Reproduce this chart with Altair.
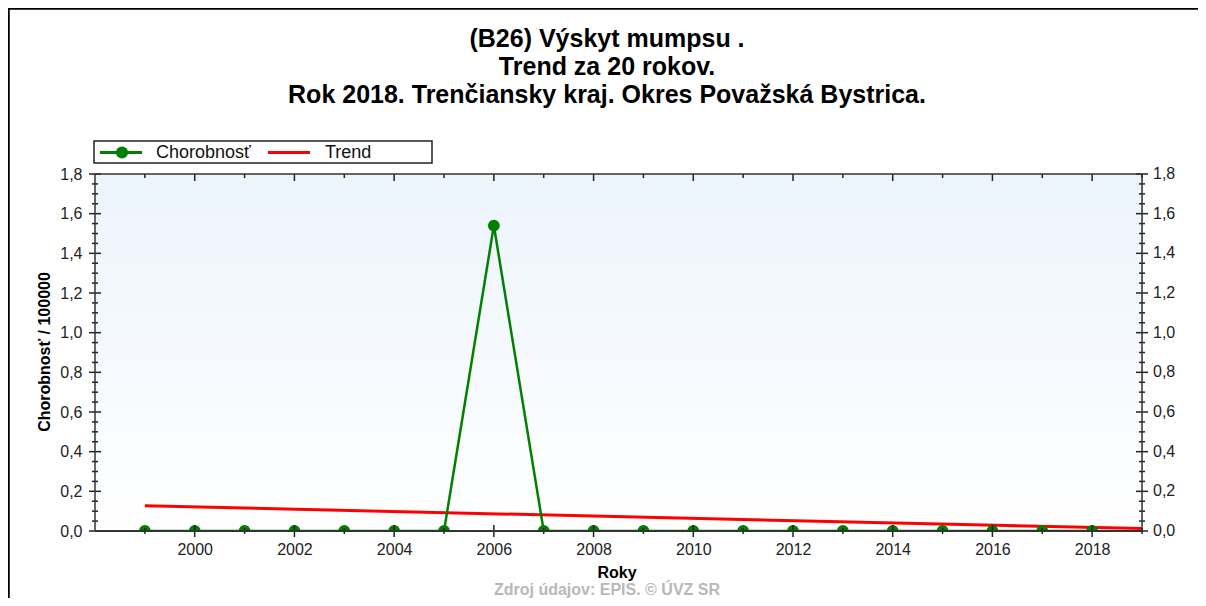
import altair as alt
import pandas as pd

# ---- data ----
years = [1999, 2000, 2001, 2002, 2003, 2004, 2005, 2006, 2007, 2008,
         2009, 2010, 2011, 2012, 2013, 2014, 2015, 2016, 2017, 2018]
incidence = [0, 0, 0, 0, 0, 0, 0, 1.54, 0, 0,
             0, 0, 0, 0, 0, 0, 0, 0, 0, 0]
trend_years = [1999, 2019]
trend_values = [0.127, 0.012]

series_names = ["Chorobnosť", "Trend"]
series_colors = ["#008000", "#ff0000"]

y_major = [0.0, 0.2, 0.4, 0.6, 0.8, 1.0, 1.2, 1.4, 1.6, 1.8]
y_major_labels = ["0,0", "0,2", "0,4", "0,6", "0,8", "1,0", "1,2", "1,4", "1,6", "1,8"]
y_minor = [0.05, 0.1, 0.15, 0.25, 0.3, 0.35, 0.45, 0.5, 0.55, 0.65, 0.7, 0.75,
           0.85, 0.9, 0.95, 1.05, 1.1, 1.15, 1.25, 1.3, 1.35, 1.45, 1.5, 1.55,
           1.65, 1.7, 1.75]
x_major = [2000, 2002, 2004, 2006, 2008, 2010, 2012, 2014, 2016, 2018]
x_minor = [1999, 2001, 2003, 2005, 2007, 2009, 2011, 2013, 2015, 2017, 2019]

title_lines = ["(B26) Výskyt mumpsu .",
               "Trend za 20 rokov.",
               "Rok 2018. Trenčiansky kraj. Okres Považská Bystrica."]
y_title = "Chorobnosť / 100000"
x_title = "Roky"
source_text = "Zdroj údajov: EPIS. © ÚVZ SR"

# ---- layout ----
W, H = 1047, 357
FONT = "Liberation Sans"
X_DOMAIN = [1998, 2019]
Y_DOMAIN = [0, 1.8]

xs = alt.Scale(domain=X_DOMAIN, nice=False, zero=False)
ys = alt.Scale(domain=Y_DOMAIN, nice=False)

X_AXIS = alt.Axis(values=x_major, format="d", ticks=False, domain=False, grid=False,
                  labelFontSize=16, labelFont=FONT, labelColor="#222", labelPadding=10, title=None)
Y_AXIS = alt.Axis(values=y_major, labelExpr="replace(format(datum.value, '.1f'), '.', ',')",
                  ticks=False, domain=False, grid=False, labelFontSize=16, labelFont=FONT,
                  labelColor="#222", labelPadding=13, title=None)

def XE(field):
    return alt.X(field, scale=xs, axis=X_AXIS, title=None)

def YE(field):
    return alt.Y(field, scale=ys, axis=Y_AXIS, title=None)

df = pd.DataFrame({"year": years, "value": incidence})
df_trend = pd.DataFrame({"year": trend_years, "value": trend_values})
one = pd.DataFrame({"k": [0]})

bg = alt.Chart(one).mark_rect(
    color=alt.LinearGradient(
        gradient="linear",
        stops=[alt.GradientStop(color="#ecf4fc", offset=0),
               alt.GradientStop(color="#ffffff", offset=1)],
        x1=0, x2=0, y1=0, y2=1)
).encode(x=alt.value(0), x2=alt.value(W), y=alt.value(0), y2=alt.value(H))

trend = alt.Chart(df_trend).mark_line(color=series_colors[1], strokeWidth=3, clip=True).encode(
    x=XE("year:Q"), y=YE("value:Q"))

line = alt.Chart(df).mark_line(color=series_colors[0], strokeWidth=2.5, clip=True).encode(
    x=XE("year:Q"), y=YE("value:Q"))
pts = alt.Chart(df).mark_point(filled=True, shape="circle", size=140, color=series_colors[0],
                                opacity=1, clip=True).encode(
    x=XE("year:Q"), y=YE("value:Q"))

# ---- ticks ----
dy_major = pd.DataFrame({"v": y_major, "lab": y_major_labels})
dy_minor = pd.DataFrame({"v": y_minor})
dx_major = pd.DataFrame({"v": x_major})
dx_minor = pd.DataFrame({"v": x_minor})
TC = "#222"

def yticks(d, x0, x1):
    return alt.Chart(d).mark_rule(color=TC, strokeWidth=1.5).encode(
        y=YE("v:Q"), x=alt.value(x0), x2=alt.value(x1))

def xticks(d, y0, y1):
    return alt.Chart(d).mark_rule(color=TC, strokeWidth=1.5).encode(
        x=XE("v:Q"), y=alt.value(y0), y2=alt.value(y1))

ticks = [
    yticks(dy_major, -6, 6), yticks(dy_minor, -3, 3),
    yticks(dy_major, W - 6, W + 6), yticks(dy_minor, W - 3, W + 3),
    xticks(dx_major, H - 6, H + 6), xticks(dx_minor, H - 3, H + 3),
    xticks(dx_major, 0, 7), xticks(dx_minor, 0, 4),
]

right_labels = alt.Chart(dy_major).mark_text(align="left", baseline="middle", fontSize=16,
                                              font=FONT, color="#222").encode(
    y=YE("v:Q"), x=alt.value(W + 11), text="lab:N")

# ---- frame ----
FC = "#333"
def rule(x, x2, y, y2, w=1.5, c=FC):
    return alt.Chart(one).mark_rule(color=c, strokeWidth=w).encode(
        x=alt.value(x), x2=alt.value(x2), y=alt.value(y), y2=alt.value(y2))

frame = [
    rule(0, 0, 0, H), rule(W, W, 0, H), rule(0, W, 0, 0), rule(0, W, H, H, w=2),
    rule(-86.5, -86.5, -166, H + 67, w=2.5, c="#000"),
    rule(-87, W + 56, -165.5, -165.5, w=2.5, c="#000"),
]

# ---- texts ----
def txt(s, x, y, size, bold=False, color="#000", align="center", baseline="alphabetic", angle=0):
    kw = dict(align=align, baseline=baseline, fontSize=size, font=FONT, color=color,
              fontWeight="bold" if bold else "normal")
    if angle:
        kw["angle"] = angle
    return alt.Chart(one).mark_text(text=s, **kw).encode(x=alt.value(x), y=alt.value(y))

texts = [
    txt(title_lines[0], 512, -127, 25, bold=True),
    txt(title_lines[1], 512, -99, 25, bold=True),
    txt(title_lines[2], 512, -71, 25, bold=True),
    txt(y_title, -50, 178, 16, bold=True, baseline="middle", angle=270),
    txt(x_title, 522, 399, 16, bold=True, baseline="middle"),
    txt(source_text, 512, 421, 16, bold=True, color="#b8b8b8"),
]

# ---- legend ----
legend = [
    alt.Chart(one).mark_rect(fill="#ffffff", stroke="#222", strokeWidth=1.5).encode(
        x=alt.value(-1), x2=alt.value(337), y=alt.value(-33), y2=alt.value(-11)),
    rule(5, 47, -21.5, -21.5, w=3, c=series_colors[0]),
    alt.Chart(one).mark_point(filled=True, shape="circle", size=150, color=series_colors[0], opacity=1).encode(
        x=alt.value(27), y=alt.value(-21.5)),
    txt(series_names[0], 61, -21.5, 18, baseline="middle", align="left", color="#111"),
    rule(173, 215, -21.5, -21.5, w=3, c=series_colors[1]),
    txt(series_names[1], 230, -21.5, 18, baseline="middle", align="left", color="#111"),
]

chart = alt.layer(bg, trend, line, pts, *ticks, right_labels, *frame, *texts, *legend).properties(
    width=W, height=H,
    padding={"left": 87, "top": 166, "right": 56, "bottom": 67},
    autosize=alt.AutoSizeParams(type="none"),
).configure_view(stroke=None).configure(background="#ffffff")

chart.save("out.html", embed_options={"renderer": "svg", "actions": False})
